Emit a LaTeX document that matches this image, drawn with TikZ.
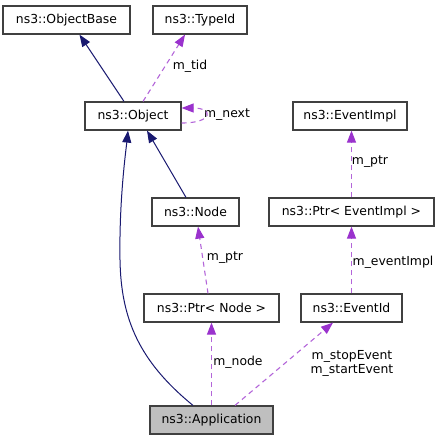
\documentclass[tikz,border=0pt]{standalone}
\usepackage{fontspec}
\setmainfont{DejaVu Sans}
\usepackage{xcolor}
\usepackage{tikz}
\usetikzlibrary{arrows.meta}
\definecolor{boxgray}{HTML}{404040}
\definecolor{hlgray}{HTML}{BFBFBF}
\definecolor{inhblue}{HTML}{191970}
\definecolor{usepurple}{HTML}{9A32CD}
\tikzstyle{class} = [rectangle, minimum height=28pt, inner sep=0pt, text centered, draw=boxgray, line width=1.2pt, fill=white, font=\fontsize{12.4}{14}\selectfont]
\tikzstyle{classhl} = [class, fill=hlgray]
\tikzstyle{member} = [font=\fontsize{12.4}{14}\selectfont, inner sep=0pt, align=center]
\tikzstyle{inherit} = [draw=inhblue, line width=1pt, -{Triangle[length=12pt,width=9pt,fill=inhblue]}]
\tikzstyle{uses} = [draw=usepurple!75, line width=1.1pt, dash pattern=on 5pt off 4pt, -{Triangle[length=12pt,width=9pt,fill=usepurple,color=usepurple]}]

\begin{document}
\begin{tikzpicture}[x=1pt, y=-1pt, node distance=96pt]
  \useasboundingbox (0,0) rectangle (441,440);

  \node (obj)     [class, minimum width=96pt] at (133,116) {ns3::Object};
  \node (objbase) [class, minimum width=127pt, above of=obj, xshift=-66.5pt] {ns3::ObjectBase};
  \node (typeid)  [class, minimum width=94pt, above of=obj, xshift=67pt] {ns3::TypeId};
  \node (node)    [class, minimum width=87pt, below of=obj, xshift=62.5pt] {ns3::Node};
  \node (ptrnode) [class, minimum width=135pt, below of=node, xshift=16pt] {ns3::Ptr< Node >};
  \node (app)     [classhl, minimum width=123pt, below of=ptrnode, yshift=-16pt] {ns3::Application};
  \node (eventid) [class, minimum width=101pt, right of=ptrnode, xshift=44pt] {ns3::EventId};
  \node (ptrev)   [class, minimum width=165pt, above of=eventid] {ns3::Ptr< EventImpl >};
  \node (evimpl)  [class, minimum width=114pt, above of=ptrev, xshift=-1.5pt] {ns3::EventImpl};

  \node (ltid)      [member] at (190,66)  {m\_tid};
  \node (lnext)     [member] at (227,115) {m\_next};
  \node (lptrnode)  [member] at (225,258) {m\_ptr};
  \node (lnode)     [member] at (238,362) {m\_node};
  \node (levent)    [member] at (352,363) {m\_stopEvent\\m\_startEvent};
  \node (levimpl)   [member] at (393,262) {m\_eventImpl};
  \node (lptrev)    [member] at (370,162) {m\_ptr};

  \draw [inherit] ([xshift=-9pt]obj.north) -- ([xshift=13pt]objbase.south);
  \draw [uses] ([xshift=10pt]obj.north) -- ([xshift=-15pt]typeid.south);
  \draw [uses] ([yshift=-7pt]obj.east) .. controls +(32,0) and +(32,0) .. ([yshift=8pt]obj.east);
  \draw [inherit] ([xshift=-9.5pt]node.north) -- ([xshift=14pt]obj.south);
  \draw [inherit] ([xshift=-18.5pt]app.north) .. controls (140,362) and (121,320) .. (120,260)
                  .. controls (119,200) and (126,150) .. ([xshift=-5pt]obj.south);
  \draw [uses] ([xshift=-3.5pt]ptrnode.north) -- ([xshift=2.5pt]node.south);
  \draw [uses] (app.north) -- (ptrnode.south);
  \draw [uses] ([xshift=23.5pt]app.north) -- ([xshift=-18.5pt]eventid.south);
  \draw [uses] (eventid.north) -- (ptrev.south);
  \draw [uses] (ptrev.north) -- ([xshift=1.5pt]evimpl.south);
\end{tikzpicture}
\end{document}
